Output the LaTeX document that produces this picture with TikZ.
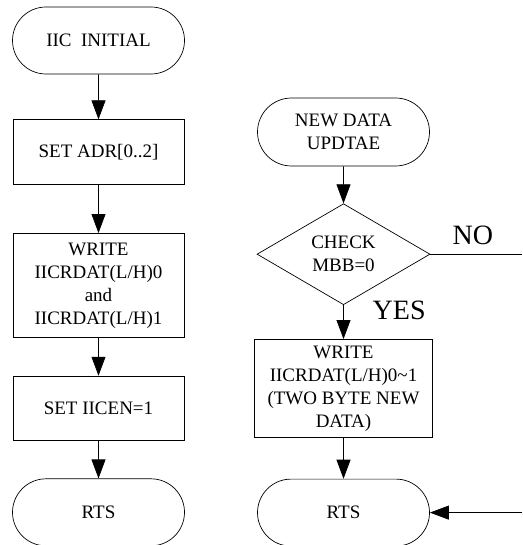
\documentclass[tikz,border=0pt]{standalone}
\usepackage{fontspec}
\setmainfont{Liberation Serif}
\usepackage{tikz}
\usetikzlibrary{shapes.geometric, shapes.misc, arrows.meta, positioning, calc}
\tikzset{
  startstop/.style={
    rounded rectangle, draw, line width=0.7pt,
    minimum width=172pt, minimum height=67pt, inner sep=0pt,
    align=center, font=\fontsize{19}{23}\selectfont
  },
  process/.style={
    rectangle, draw, line width=0.7pt,
    minimum width=171pt, minimum height=65pt, inner sep=0pt,
    align=center, font=\fontsize{19}{23}\selectfont
  },
  decision/.style={
    diamond, draw, line width=0.7pt, aspect=1.7,
    minimum width=173pt, minimum height=101pt, inner sep=0pt,
    align=center, font=\fontsize{19}{23}\selectfont
  },
  answer/.style={inner sep=0pt, font=\fontsize{28}{30}\selectfont},
  arrow/.style={line width=0.7pt, -{Triangle[length=19pt,width=14pt]}},
}

\begin{document}
\begin{tikzpicture}[x=1pt, y=-1pt]
  \useasboundingbox (0,0) rectangle (522,545);

  % left column
  \node (init)  [startstop]                         at (98.5,40.5) {IIC\ \ INITIAL};
  \node (adr)   [process,  below=45pt of init]      {SET ADR[0..2]};
  \node (wrt)   [process,  minimum height=104pt, below=48pt of adr]
                {WRITE\\IICRDAT(L/H)0\\and\\IICRDAT(L/H)1};
  \node (en)    [process,  minimum height=64pt, below=38pt of wrt] {SET IICEN=1};
  \node (rtsl)  [startstop, below=38pt of en]       {RTS};

  % right column
  \node (upd)   [startstop, minimum height=68pt]    at (343.5,132) {NEW DATA\\UPDTAE};
  \node (chk)   [decision, below=37pt of upd]       {CHECK\\MBB=0};
  \node (wr2)   [process,  minimum width=178pt, minimum height=98pt, below=34pt of chk]
                {WRITE\\IICRDAT(L/H)0\textasciitilde1\\(TWO BYTE NEW\\DATA)};
  \node (rtsr)  [startstop, below=41pt of wr2]      {RTS};

  \node (no)    [answer, anchor=south west] at ($(chk.east)+(22,-9)$) {NO};
  \node (yes)   [answer, anchor=west, right=29pt of chk.south, yshift=-5pt] {YES};

  \coordinate (edge)   at (522,0);
  \coordinate (noout)  at (chk.east -| edge);
  \coordinate (back)   at (rtsr.east -| edge);

  \draw [arrow] (init) -- (adr);
  \draw [arrow] (adr)  -- (wrt);
  \draw [arrow] (wrt)  -- (en);
  \draw [arrow] (en)   -- (rtsl);
  \draw [arrow] (upd)  -- (chk);
  \draw [arrow] (chk)  -- (wr2);
  \draw [arrow] (wr2)  -- (rtsr);
  \draw [line width=0.7pt] (chk.east) -- (noout);
  \draw [arrow] (back) -- (rtsr.east);
\end{tikzpicture}
\end{document}
